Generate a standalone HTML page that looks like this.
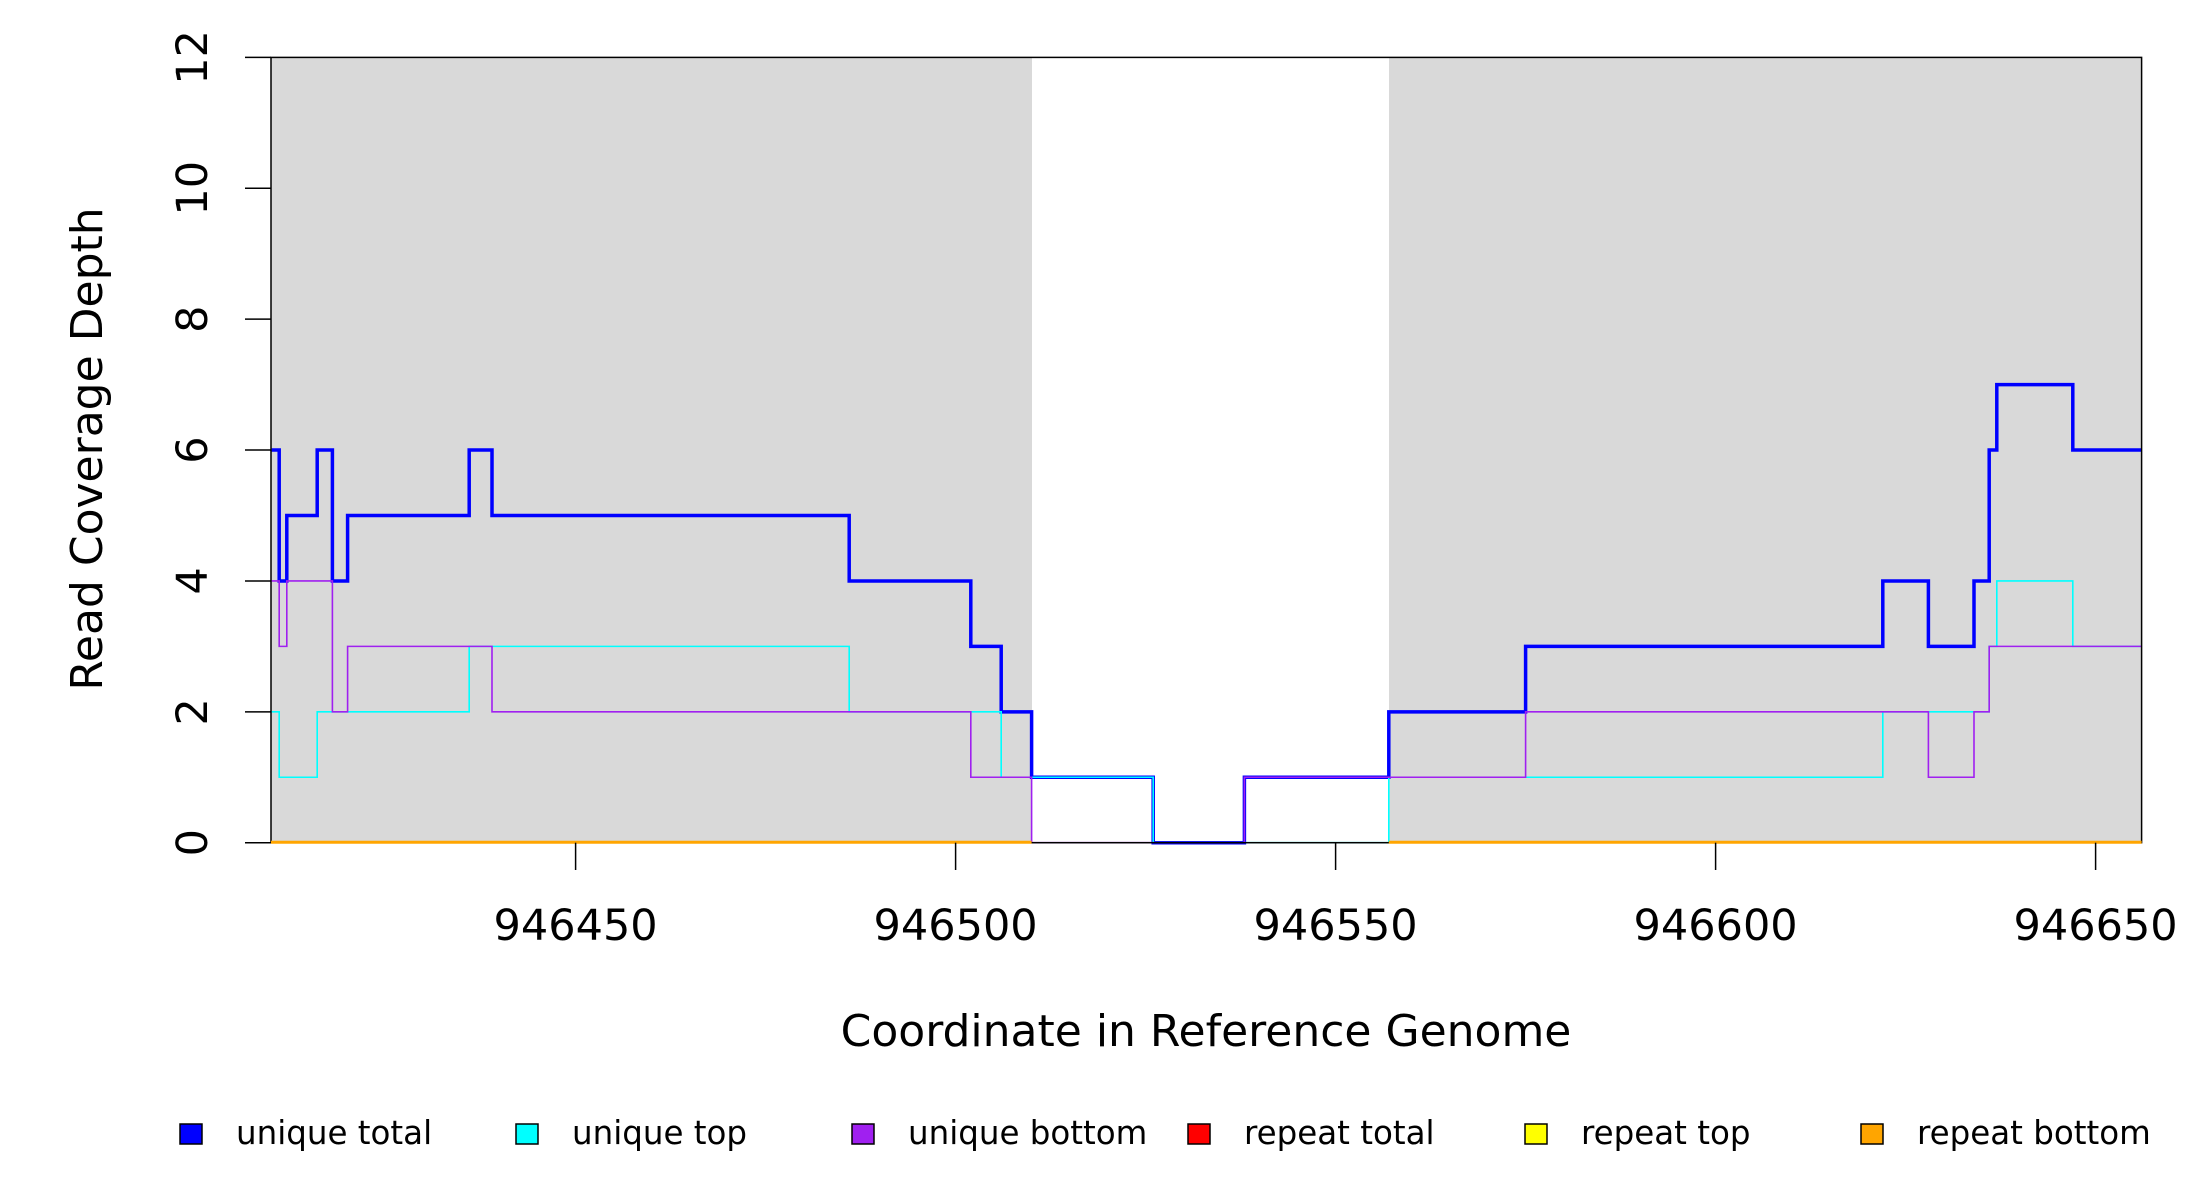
<!DOCTYPE html>
<html><head><meta charset="utf-8"><style>
html,body{margin:0;padding:0;background:#fff;}
svg{display:block;font-family:"DejaVu Sans","Liberation Sans",sans-serif;}
</style></head><body>
<svg id="s" width="2200" height="1200" viewBox="0 0 2200 1200" xmlns="http://www.w3.org/2000/svg">
<rect x="0" y="0" width="2200" height="1200" fill="#fff"/>
<rect x="271" y="57.4" width="761" height="785.3" fill="#d9d9d9"/>
<rect x="1389" y="57.4" width="752.6" height="785.3" fill="#d9d9d9"/>
<g id="lines"></g>
<rect x="271" y="57.4" width="1870.6" height="785.3" fill="none" stroke="#000" stroke-width="1.5"/>
<g stroke="#ffa500" stroke-width="3">
<line x1="271" y1="842.2" x2="1031.6" y2="842.2"/>
<line x1="1388.8" y1="842.2" x2="2141.6" y2="842.2"/>
</g>
<g stroke="#000" stroke-width="1.5" id="ticks"></g>
<g font-size="43" fill="#000" text-anchor="middle">
<text x="575.6" y="940">946450</text>
<text x="955.6" y="940">946500</text>
<text x="1335.6" y="940">946550</text>
<text x="1715.6" y="940">946600</text>
<text x="2095.6" y="940">946650</text>
<text x="1206" y="1046" font-size="44">Coordinate in Reference Genome</text>
<text transform="translate(102,449) rotate(-90)" font-size="44">Read Coverage Depth</text>
</g>
<g font-size="43" fill="#000" text-anchor="middle" id="ylab"></g>
<g font-size="32.5" fill="#000">
<rect x="180" y="1124" width="22" height="20" fill="#0000ff" stroke="#000" stroke-width="1.5"/><text x="236" y="1144">unique total</text>
<rect x="516" y="1124" width="22" height="20" fill="#00ffff" stroke="#000" stroke-width="1.5"/><text x="572" y="1144">unique top</text>
<rect x="852" y="1124" width="22" height="20" fill="#a020f0" stroke="#000" stroke-width="1.5"/><text x="908" y="1144">unique bottom</text>
<rect x="1188" y="1124" width="22" height="20" fill="#ff0000" stroke="#000" stroke-width="1.5"/><text x="1244" y="1144">repeat total</text>
<rect x="1525" y="1124" width="22" height="20" fill="#ffff00" stroke="#000" stroke-width="1.5"/><text x="1581" y="1144">repeat top</text>
<rect x="1861" y="1124" width="22" height="20" fill="#ffa500" stroke="#000" stroke-width="1.5"/><text x="1917" y="1144">repeat bottom</text>
</g>
</svg>
<script>
var NS="http://www.w3.org/2000/svg";
function X(c){return 575.6+(c-946450)*7.6;}
function Y(v){return 842.7-v*65.44;}
function step(segs){var d="";segs.forEach(function(s,i){var a=X(s[0]),b=X(s[1]),y=Y(s[2]);if(i==0)d+="M"+a+" "+y;else d+="L"+a+" "+y;d+="L"+b+" "+y;});return d;}
function add(segs,col,w){var p=document.createElementNS(NS,"path");p.setAttribute("d",step(segs));p.setAttribute("fill","none");p.setAttribute("stroke",col);p.setAttribute("stroke-width",w);document.getElementById("lines").appendChild(p);}
var total=[[946410,946411,6],[946411,946412,4],[946412,946416,5],[946416,946418,6],[946418,946420,4],[946420,946436,5],[946436,946439,6],[946439,946486,5],[946486,946502,4],[946502,946506,3],[946506,946510,2],[946510,946526,1],[946526,946538,0],[946538,946557,1],[946557,946575,2],[946575,946622,3],[946622,946628,4],[946628,946634,3],[946634,946636,4],[946636,946637,6],[946637,946647,7],[946647,946656,6]];
var top_=[[946410,946411,2],[946411,946416,1],[946416,946436,2],[946436,946486,3],[946486,946506,2],[946506,946526,1],[946526,946557,0],[946557,946622,1],[946622,946636,2],[946636,946637,3],[946637,946647,4],[946647,946656,3]];
var bot=[[946410,946411,4],[946411,946412,3],[946412,946418,4],[946418,946420,2],[946420,946439,3],[946439,946502,2],[946502,946510,1],[946510,946538,0],[946538,946575,1],[946575,946628,2],[946628,946634,1],[946634,946636,2],[946636,946656,3]];
add(total,"#0000ff",3.5);
add(top_,"#00ffff",1.6);
add(bot,"#a020f0",1.6);
var t=document.getElementById("ticks"),yl=document.getElementById("ylab");
for(var v=0;v<=12;v+=2){var l=document.createElementNS(NS,"line");l.setAttribute("x1",245);l.setAttribute("x2",271);l.setAttribute("y1",Y(v));l.setAttribute("y2",Y(v));t.appendChild(l);
var tx=document.createElementNS(NS,"text");tx.setAttribute("transform","translate(207,"+Y(v)+") rotate(-90)");tx.textContent=v;yl.appendChild(tx);}
[946450,946500,946550,946600,946650].forEach(function(c){var l=document.createElementNS(NS,"line");l.setAttribute("x1",X(c));l.setAttribute("x2",X(c));l.setAttribute("y1",842.7);l.setAttribute("y2",870);t.appendChild(l);});
</script>
</body></html>
